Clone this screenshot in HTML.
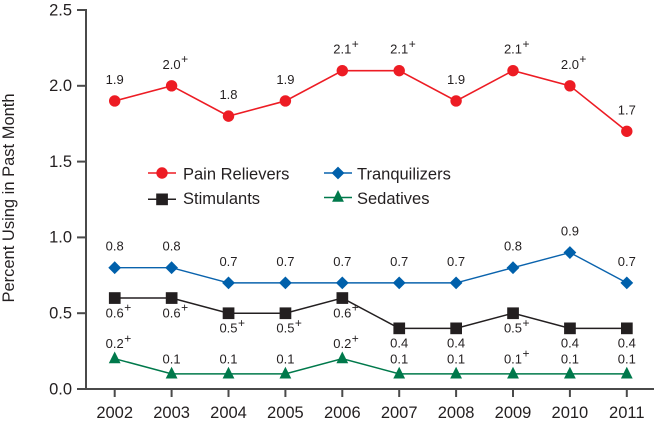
<!DOCTYPE html>
<html>
<head>
<meta charset="utf-8">
<style>
html,body{margin:0;padding:0;background:#fff;}
svg{display:block;}
text{font-family:"Liberation Sans",Arial,sans-serif;fill:#231f20;}
.t{font-size:16.5px;}
.d{font-size:13px;text-anchor:middle;}
.p{font-size:12px;}
</style>
</head>
<body>
<svg width="655" height="424" viewBox="0 0 655 424" xmlns="http://www.w3.org/2000/svg">
<!-- axes -->
<g stroke="#4a4a4a" stroke-width="2" fill="none">
<line x1="86" y1="9" x2="86" y2="390"/>
<line x1="85" y1="389" x2="654" y2="389"/>
<line x1="77" y1="10" x2="86" y2="10"/>
<line x1="77" y1="85.8" x2="86" y2="85.8"/>
<line x1="77" y1="161.6" x2="86" y2="161.6"/>
<line x1="77" y1="237.4" x2="86" y2="237.4"/>
<line x1="77" y1="313.2" x2="86" y2="313.2"/>
<line x1="77" y1="389" x2="86" y2="389"/>
<line x1="114.7" y1="389" x2="114.7" y2="397"/>
<line x1="171.6" y1="389" x2="171.6" y2="397"/>
<line x1="228.5" y1="389" x2="228.5" y2="397"/>
<line x1="285.4" y1="389" x2="285.4" y2="397"/>
<line x1="342.3" y1="389" x2="342.3" y2="397"/>
<line x1="399.2" y1="389" x2="399.2" y2="397"/>
<line x1="456.1" y1="389" x2="456.1" y2="397"/>
<line x1="513.0" y1="389" x2="513.0" y2="397"/>
<line x1="569.9" y1="389" x2="569.9" y2="397"/>
<line x1="626.8" y1="389" x2="626.8" y2="397"/>
</g>
<!-- y tick labels -->
<g class="t" text-anchor="end">
<text x="72" y="15.3">2.5</text>
<text x="72" y="91.1">2.0</text>
<text x="72" y="166.9">1.5</text>
<text x="72" y="242.7">1.0</text>
<text x="72" y="318.5">0.5</text>
<text x="72" y="394.3">0.0</text>
</g>
<!-- x tick labels -->
<g class="t" text-anchor="middle">
<text x="114.7" y="418">2002</text>
<text x="171.6" y="418">2003</text>
<text x="228.5" y="418">2004</text>
<text x="285.4" y="418">2005</text>
<text x="342.3" y="418">2006</text>
<text x="399.2" y="418">2007</text>
<text x="456.1" y="418">2008</text>
<text x="513.0" y="418">2009</text>
<text x="569.9" y="418">2010</text>
<text x="626.8" y="418">2011</text>
</g>
<!-- y axis title -->
<text class="t" transform="translate(14,198) rotate(-90)" text-anchor="middle">Percent Using in Past Month</text>

<!-- Pain Relievers -->
<polyline fill="none" stroke="#ed1c24" stroke-width="1.6" points="114.7,100.96 171.6,85.8 228.5,116.12 285.4,100.96 342.3,70.64 399.2,70.64 456.1,100.96 513.0,70.64 569.9,85.8 626.8,131.28"/>
<g fill="#ed1c24">
<circle cx="114.7" cy="100.96" r="5.7"/>
<circle cx="171.6" cy="85.8" r="5.7"/>
<circle cx="228.5" cy="116.12" r="5.7"/>
<circle cx="285.4" cy="100.96" r="5.7"/>
<circle cx="342.3" cy="70.64" r="5.7"/>
<circle cx="399.2" cy="70.64" r="5.7"/>
<circle cx="456.1" cy="100.96" r="5.7"/>
<circle cx="513.0" cy="70.64" r="5.7"/>
<circle cx="569.9" cy="85.8" r="5.7"/>
<circle cx="626.8" cy="131.28" r="5.7"/>
</g>
<g class="d">
<text x="114.7" y="84">1.9</text>
<text x="171.6" y="68.8">2.0</text>
<text x="228.5" y="99.1">1.8</text>
<text x="285.4" y="84">1.9</text>
<text x="342.3" y="53.6">2.1</text>
<text x="399.2" y="53.6">2.1</text>
<text x="456.1" y="84">1.9</text>
<text x="513.0" y="53.6">2.1</text>
<text x="569.9" y="68.8">2.0</text>
<text x="626.8" y="114.3">1.7</text>
</g>
<g class="p">
<text x="181.1" y="63.2">+</text>
<text x="351.8" y="48">+</text>
<text x="408.7" y="48">+</text>
<text x="522.5" y="48">+</text>
<text x="579.4" y="63.2">+</text>
</g>

<!-- Tranquilizers -->
<polyline fill="none" stroke="#0a63ad" stroke-width="1.4" points="114.7,267.72 171.6,267.72 228.5,282.88 285.4,282.88 342.3,282.88 399.2,282.88 456.1,282.88 513.0,267.72 569.9,252.56 626.8,282.88"/>
<g fill="#0060ab">
<polygon points="114.7,261.3 121.1,267.72 114.7,274.1 108.3,267.72"/>
<polygon points="171.6,261.3 178,267.72 171.6,274.1 165.2,267.72"/>
<polygon points="228.5,276.5 234.9,282.88 228.5,289.3 222.1,282.88"/>
<polygon points="285.4,276.5 291.8,282.88 285.4,289.3 279,282.88"/>
<polygon points="342.3,276.5 348.7,282.88 342.3,289.3 335.9,282.88"/>
<polygon points="399.2,276.5 405.6,282.88 399.2,289.3 392.8,282.88"/>
<polygon points="456.1,276.5 462.5,282.88 456.1,289.3 449.7,282.88"/>
<polygon points="513,261.3 519.4,267.72 513,274.1 506.6,267.72"/>
<polygon points="569.9,246.1 576.3,252.56 569.9,259 563.5,252.56"/>
<polygon points="626.8,276.5 633.2,282.88 626.8,289.3 620.4,282.88"/>
</g>
<g class="d">
<text x="114.7" y="250.7">0.8</text>
<text x="171.6" y="250.7">0.8</text>
<text x="228.5" y="265.9">0.7</text>
<text x="285.4" y="265.9">0.7</text>
<text x="342.3" y="265.9">0.7</text>
<text x="399.2" y="265.9">0.7</text>
<text x="456.1" y="265.9">0.7</text>
<text x="513.0" y="250.7">0.8</text>
<text x="569.9" y="235.6">0.9</text>
<text x="626.8" y="265.9">0.7</text>
</g>

<!-- Stimulants -->
<polyline fill="none" stroke="#231f20" stroke-width="1.5" points="114.7,298.04 171.6,298.04 228.5,313.2 285.4,313.2 342.3,298.04 399.2,328.36 456.1,328.36 513.0,313.2 569.9,328.36 626.8,328.36"/>
<g fill="#231f20">
<rect x="108.9" y="292.2" width="11.7" height="11.7"/>
<rect x="165.8" y="292.2" width="11.7" height="11.7"/>
<rect x="222.7" y="307.4" width="11.7" height="11.7"/>
<rect x="279.6" y="307.4" width="11.7" height="11.7"/>
<rect x="336.5" y="292.2" width="11.7" height="11.7"/>
<rect x="393.4" y="322.5" width="11.7" height="11.7"/>
<rect x="450.3" y="322.5" width="11.7" height="11.7"/>
<rect x="507.2" y="307.4" width="11.7" height="11.7"/>
<rect x="564.1" y="322.5" width="11.7" height="11.7"/>
<rect x="621" y="322.5" width="11.7" height="11.7"/>
</g>
<g class="d">
<text x="114.7" y="317.3">0.6</text>
<text x="171.6" y="317.3">0.6</text>
<text x="228.5" y="332.7">0.5</text>
<text x="285.4" y="332.7">0.5</text>
<text x="342.3" y="317.3">0.6</text>
<text x="399.2" y="347.7">0.4</text>
<text x="456.1" y="347.7">0.4</text>
<text x="513.0" y="332.7">0.5</text>
<text x="569.9" y="347.7">0.4</text>
<text x="626.8" y="347.7">0.4</text>
</g>
<g class="p">
<text x="124.2" y="311.7">+</text>
<text x="181.1" y="311.7">+</text>
<text x="238" y="327.1">+</text>
<text x="294.9" y="327.1">+</text>
<text x="351.8" y="311.7">+</text>
<text x="522.5" y="327.1">+</text>
</g>

<!-- Sedatives -->
<polyline fill="none" stroke="#00794b" stroke-width="1.5" points="114.7,358.68 171.6,373.84 228.5,373.84 285.4,373.84 342.3,358.68 399.2,373.84 456.1,373.84 513.0,373.84 569.9,373.84 626.8,373.84"/>
<g fill="#00794b">
<polygon points="114.7,351.5 120.6,363.3 108.8,363.3"/>
<polygon points="171.6,366.7 177.5,378.5 165.7,378.5"/>
<polygon points="228.5,366.7 234.4,378.5 222.6,378.5"/>
<polygon points="285.4,366.7 291.3,378.5 279.5,378.5"/>
<polygon points="342.3,351.5 348.2,363.3 336.4,363.3"/>
<polygon points="399.2,366.7 405.1,378.5 393.3,378.5"/>
<polygon points="456.1,366.7 462,378.5 450.2,378.5"/>
<polygon points="513,366.7 518.9,378.5 507.1,378.5"/>
<polygon points="569.9,366.7 575.8,378.5 564,378.5"/>
<polygon points="626.8,366.7 632.7,378.5 620.9,378.5"/>
</g>
<g class="d">
<text x="114.7" y="348.2">0.2</text>
<text x="171.6" y="363.3">0.1</text>
<text x="228.5" y="363.3">0.1</text>
<text x="285.4" y="363.3">0.1</text>
<text x="342.3" y="348.2">0.2</text>
<text x="399.2" y="363.3">0.1</text>
<text x="456.1" y="363.3">0.1</text>
<text x="513.0" y="363.3">0.1</text>
<text x="569.9" y="363.3">0.1</text>
<text x="626.8" y="363.3">0.1</text>
</g>
<g class="p">
<text x="124.2" y="342.6">+</text>
<text x="351.8" y="342.6">+</text>
<text x="522.5" y="357.7">+</text>
</g>

<!-- Legend -->
<line x1="148" y1="173" x2="176" y2="173" stroke="#ed1c24" stroke-width="1.6"/>
<circle cx="162" cy="173" r="5.7" fill="#ed1c24"/>
<text class="t" x="183" y="179.3">Pain Relievers</text>

<line x1="148" y1="199.3" x2="176" y2="199.3" stroke="#231f20" stroke-width="1.5"/>
<rect x="156.2" y="193.5" width="11.7" height="11.7" fill="#231f20"/>
<text class="t" x="183" y="203.8">Stimulants</text>

<line x1="324" y1="173" x2="352" y2="173" stroke="#0a63ad" stroke-width="1.4"/>
<polygon points="338,166.6 344.4,173 338,179.4 331.6,173" fill="#0060ab"/>
<text class="t" x="357" y="179.3">Tranquilizers</text>

<line x1="324" y1="197.5" x2="352" y2="197.5" stroke="#00794b" stroke-width="1.5"/>
<polygon points="338,190 343.9,201.8 332.1,201.8" fill="#00794b"/>
<text class="t" x="357" y="203.8">Sedatives</text>
</svg>
</body>
</html>
